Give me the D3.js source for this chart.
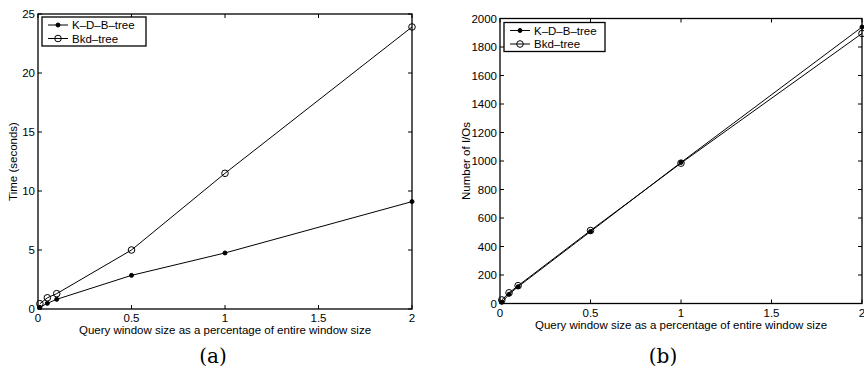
<!DOCTYPE html>
<html>
<head>
<meta charset="utf-8">
<script src="https://cdn.jsdelivr.net/npm/d3@7"></script>
<style>
  body { margin: 0; background: #fff; }
  svg { display: block; }
  text { font-family: "Liberation Sans", Arial, sans-serif; fill: #000; }
</style>
</head>
<body>
<svg width="864" height="371"></svg>
<script>
// window size (% of entire window)
let xValues = [0.01, 0.05, 0.1, 0.5, 1, 2];
let xTicks = [0, 0.5, 1, 1.5, 2];
let seriesNames = ["K\u2013D\u2013B\u2013tree", "Bkd\u2013tree"];

// (a) time in seconds
let timeKDB = [0.14, 0.48, 0.82, 2.85, 4.75, 9.1];
let timeBkd = [0.45, 0.95, 1.3, 5.0, 11.5, 23.9];
let timeTicks = [0, 5, 10, 15, 20, 25];

// (b) number of I/Os
let ioKDB = [8, 65, 118, 505, 990, 1940];
let ioBkd = [25, 75, 125, 512, 985, 1895];
let ioTicks = [0, 200, 400, 600, 800, 1000, 1200, 1400, 1600, 1800, 2000];

let svg = d3.select("svg");

let drawPanel = (opt) => {
    let x = d3.scaleLinear().domain([0, 2]).range([opt.left, opt.right]);
    let y = d3.scaleLinear().domain([0, opt.ymax]).range([opt.bottom, opt.top]);
    let g = svg.append("g");
    let tk = 4;

    // box
    g.append("rect")
        .attr("x", opt.left).attr("y", opt.top)
        .attr("width", opt.right - opt.left).attr("height", opt.bottom - opt.top)
        .attr("fill", "none").attr("stroke", "#000").attr("stroke-width", 1.3);

    // ticks inward on all four sides
    xTicks.forEach(t => {
        g.append("line").attr("x1", x(t)).attr("x2", x(t))
            .attr("y1", opt.bottom).attr("y2", opt.bottom - tk).attr("stroke", "#000");
        g.append("line").attr("x1", x(t)).attr("x2", x(t))
            .attr("y1", opt.top).attr("y2", opt.top + tk).attr("stroke", "#000");
        g.append("text").attr("x", x(t)).attr("y", opt.bottom + 13)
            .attr("text-anchor", "middle").style("font-size", "11.5px").text(t);
    });
    opt.yTicks.forEach(t => {
        g.append("line").attr("x1", opt.left).attr("x2", opt.left + tk)
            .attr("y1", y(t)).attr("y2", y(t)).attr("stroke", "#000");
        g.append("line").attr("x1", opt.right).attr("x2", opt.right - tk)
            .attr("y1", y(t)).attr("y2", y(t)).attr("stroke", "#000");
        g.append("text").attr("x", opt.left - 3).attr("y", y(t) + 4)
            .attr("text-anchor", "end").style("font-size", "11.5px").text(t);
    });

    // axis labels
    g.append("text").attr("x", (opt.left + opt.right) / 2 + opt.xlabDx).attr("y", opt.bottom + 25)
        .attr("text-anchor", "middle").style("font-size", "11.5px")
        .text("Query window size as a percentage of entire window size");
    g.append("text")
        .attr("transform", "translate(" + opt.ylabX + "," + ((opt.top + opt.bottom) / 2) + ") rotate(-90)")
        .attr("text-anchor", "middle").style("font-size", "11.5px").text(opt.ylab);

    // caption
    g.append("text").attr("x", opt.capX).attr("y", 363)
        .attr("text-anchor", "middle")
        .style("font-family", "'DejaVu Serif', 'Liberation Serif', serif")
        .style("font-size", "20px").text(opt.caption);

    let line = d3.line().x((d, i) => x(xValues[i])).y(d => y(d));

    // series
    opt.series.forEach((s, k) => {
        g.append("path").attr("d", line(s))
            .attr("fill", "none").attr("stroke", "#000").attr("stroke-width", 1);
        s.forEach((v, i) => {
            g.append("circle").attr("cx", x(xValues[i])).attr("cy", y(v))
                .attr("r", k === 0 ? 2 : 3.3)
                .attr("fill", k === 0 ? "#000" : "none")
                .attr("stroke", "#000").attr("stroke-width", 1);
        });
    });

    // legend
    let lg = opt.legend;
    g.append("rect").attr("x", lg.x).attr("y", lg.y).attr("width", lg.w).attr("height", 29)
        .attr("fill", "#fff").attr("stroke", "#000").attr("stroke-width", 1.3);
    seriesNames.forEach((name, k) => {
        let ly = lg.y + 8 + k * 13.5;
        g.append("line").attr("x1", lg.x + 6).attr("x2", lg.x + 26)
            .attr("y1", ly).attr("y2", ly).attr("stroke", "#000");
        g.append("circle").attr("cx", lg.x + 16).attr("cy", ly)
            .attr("r", k === 0 ? 2 : 3.3)
            .attr("fill", k === 0 ? "#000" : "none").attr("stroke", "#000");
        g.append("text").attr("x", lg.x + 30).attr("y", ly + 4)
            .style("font-size", "11.5px").text(name);
    });
};

drawPanel({
    left: 38, right: 412, top: 14, bottom: 309, ymax: 25,
    yTicks: timeTicks, ylab: "Time (seconds)", ylabX: 17, xlabDx: 0,
    caption: "(a)", capX: 213,
    series: [timeKDB, timeBkd],
    legend: { x: 42, y: 17, w: 104 }
});

drawPanel({
    left: 500, right: 862, top: 18.5, bottom: 303.5, ymax: 2000,
    yTicks: ioTicks, ylab: "Number of I/Os", ylabX: 470, xlabDx: 0,
    caption: "(b)", capX: 663,
    series: [ioKDB, ioBkd],
    legend: { x: 504, y: 22.5, w: 101 }
});
</script>
</body>
</html>
